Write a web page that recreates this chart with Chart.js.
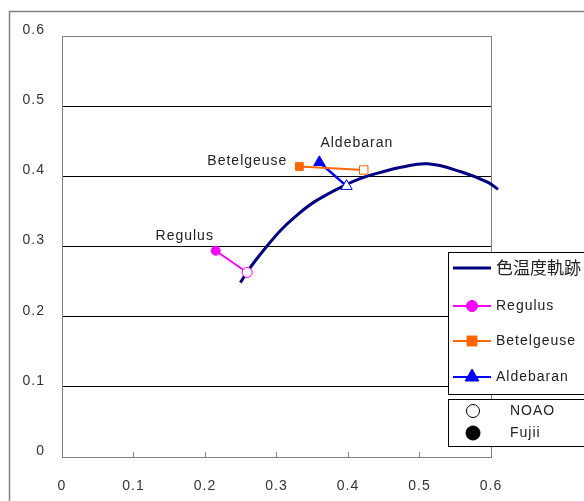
<!DOCTYPE html>
<html>
<head>
<meta charset="utf-8">
<script src="https://cdn.jsdelivr.net/npm/chart.js@4/dist/chart.umd.min.js"></script>
<style>
html, body { margin: 0; padding: 0; background: #fff; }
#wrap { width: 584px; height: 501px; }
</style>
</head>
<body>
<div id="wrap"><canvas id="chromaChart" width="584" height="501"></canvas></div>
<script>
// color temperature locus
const locusX = [0.2495, 0.2594, 0.2706, 0.2874, 0.3056, 0.3267, 0.3519, 0.3897, 0.4178, 0.4458, 0.4738, 0.5117, 0.5580, 0.5958, 0.6098];
const locusY = [0.2486, 0.2643, 0.2800, 0.3014, 0.3229, 0.3429, 0.3629, 0.3843, 0.3971, 0.4057, 0.4129, 0.4179, 0.4065, 0.3914, 0.3814];

// stars: Fujii (filled) and NOAO (open)
const starNames = ['Regulus', 'Betelgeuse', 'Aldebaran'];
const fujiiX = [0.215, 0.332, 0.360];
const fujiiY = [0.294, 0.414, 0.420];
const noaoX = [0.259, 0.422, 0.398];
const noaoY = [0.263, 0.409, 0.386];

const tickLabels = ['0', '0.1', '0.2', '0.3', '0.4', '0.5', '0.6'];
const locusName = '色温度軌跡';
const sourceNames = ['NOAO', 'Fujii'];

const starColors = ['#FF00FF', '#FF6600', '#0000FF'];
const starShapes = ['circle', 'rect', 'triangle'];
const starRadius = [[4.5, 5], [5.5, 6], [6.5, 6.5]];
const TEXT_FONT = '"Liberation Sans", Arial, sans-serif';

function starData(i) {
    return [{x: fujiiX[i], y: fujiiY[i]}, {x: noaoX[i], y: noaoY[i]}];
}

const datasets = starNames.map((name, i) => ({
    label: name,
    data: starData(i),
    showLine: true,
    borderColor: starColors[i],
    borderWidth: i === 2 ? 2.5 : 2,
    pointStyle: starShapes[i],
    pointRadius: starRadius[i],
    pointBackgroundColor: [starColors[i], '#ffffff'],
    pointBorderColor: starColors[i],
    pointBorderWidth: 1,
}));

datasets.push({
    label: locusName,
    data: locusX.map((x, i) => ({x: x, y: locusY[i]})),
    showLine: true,
    borderColor: '#000080',
    borderWidth: 3,
    pointRadius: 0,
    tension: 0.4,
    clip: false,
});

function drawShape(ctx, shape, x, y, r, fill, stroke) {
    ctx.beginPath();
    if (shape === 'circle') {
        ctx.arc(x, y, r, 0, Math.PI * 2);
    } else if (shape === 'rect') {
        const s = Math.SQRT1_2 * r;
        ctx.rect(x - s, y - s, 2 * s, 2 * s);
    } else {
        ctx.moveTo(x, y - r);
        ctx.lineTo(x + Math.sin(Math.PI * 2 / 3) * r, y - Math.cos(Math.PI * 2 / 3) * r);
        ctx.lineTo(x + Math.sin(Math.PI * 4 / 3) * r, y - Math.cos(Math.PI * 4 / 3) * r);
        ctx.closePath();
    }
    ctx.fillStyle = fill;
    ctx.fill();
    ctx.strokeStyle = stroke;
    ctx.lineWidth = 1;
    ctx.stroke();
}

const framePlugin = {
    id: 'frame',
    beforeDraw(chart) {
        const ctx = chart.ctx;
        ctx.letterSpacing = '1px';
        ctx.save();
        ctx.strokeStyle = '#808080';
        ctx.lineWidth = 1.5;
        ctx.strokeRect(9.5, 11.5, 700, 600);
        ctx.restore();
    },
    beforeDatasetsDraw(chart) {
        const a = chart.chartArea;
        const ctx = chart.ctx;
        ctx.save();
        ctx.strokeStyle = '#808080';
        ctx.lineWidth = 1;
        ctx.strokeRect(Math.round(a.left) + 0.5, Math.round(a.top) + 0.5, Math.round(a.right - a.left), Math.round(a.bottom - a.top));
        ctx.restore();
    },
    afterDatasetsDraw(chart) {
        const ctx = chart.ctx;
        const xs = chart.scales.x, ys = chart.scales.y;
        ctx.save();
        ctx.letterSpacing = '1px';
        ctx.font = '14px ' + TEXT_FONT;
        ctx.fillStyle = '#222';
        ctx.textBaseline = 'middle';
        // star name labels near the Fujii points
        const offsets = [[-31, -15, 'center'], [-12, -5, 'right'], [1, -19, 'left']];
        starNames.forEach((name, i) => {
            const px = xs.getPixelForValue(fujiiX[i]);
            const py = ys.getPixelForValue(fujiiY[i]);
            ctx.textAlign = offsets[i][2];
            ctx.fillText(name, px + offsets[i][0], py + offsets[i][1]);
        });

        // legend box 1
        ctx.fillStyle = '#fff';
        ctx.fillRect(448.5, 252.5, 200, 142);
        ctx.strokeStyle = '#000';
        ctx.lineWidth = 1;
        ctx.strokeRect(448.5, 252.5, 200, 142);
        const rows = [268, 306, 341, 377];
        ctx.textAlign = 'left';
        ctx.beginPath();
        ctx.moveTo(453, rows[0]);
        ctx.lineTo(491, rows[0]);
        ctx.strokeStyle = '#000080';
        ctx.lineWidth = 3;
        ctx.stroke();
        ctx.fillStyle = '#222';
        ctx.letterSpacing = '0px';
        ctx.font = '17px "Noto Sans CJK JP"';
        ctx.fillText(locusName, 496, rows[0]);
        ctx.letterSpacing = '1px';
        ctx.font = '14px ' + TEXT_FONT;
        const legendRadius = [5.5, 7, 8];
        starNames.forEach((name, i) => {
            const y = rows[i + 1];
            ctx.beginPath();
            ctx.moveTo(453, y);
            ctx.lineTo(491, y);
            ctx.strokeStyle = starColors[i];
            ctx.lineWidth = 2;
            ctx.stroke();
            drawShape(ctx, starShapes[i], 472, y, legendRadius[i], starColors[i], starColors[i]);
            ctx.fillStyle = '#222';
            ctx.fillText(name, 496, y);
        });

        // legend box 2
        ctx.fillStyle = '#fff';
        ctx.fillRect(448.5, 399.5, 200, 47);
        ctx.strokeStyle = '#000';
        ctx.lineWidth = 1;
        ctx.strokeRect(448.5, 399.5, 200, 47);
        drawShape(ctx, 'circle', 473, 411, 6.5, '#fff', '#000');
        drawShape(ctx, 'circle', 473, 433, 7, '#000', '#000');
        ctx.fillStyle = '#222';
        ctx.fillText(sourceNames[0], 510, 411);
        ctx.fillText(sourceNames[1], 510, 433);
        ctx.restore();
    }
};

new Chart(document.getElementById('chromaChart'), {
    type: 'scatter',
    data: { datasets: datasets },
    options: {
        responsive: false,
        animation: false,
        devicePixelRatio: 1,
        layout: { padding: { left: 0, top: 36, right: 93, bottom: 0 } },
        plugins: {
            legend: { display: false },
            tooltip: { enabled: false }
        },
        scales: {
            x: {
                type: 'linear',
                min: 0,
                max: 0.6,
                afterFit: (scale) => { scale.height = 44; },
                border: { display: true, color: '#808080', width: 1 },
                grid: { drawOnChartArea: false, drawTicks: true, tickLength: -5, color: '#808080' },
                ticks: {
                    stepSize: 0.1,
                    padding: 26,
                    color: '#333',
                    font: { family: TEXT_FONT, size: 14 },
                    callback: (v, i) => tickLabels[i]
                }
            },
            y: {
                type: 'linear',
                min: 0,
                max: 0.6,
                afterFit: (scale) => { scale.width = 62; },
                border: { display: true, color: '#808080', width: 1 },
                grid: {
                    drawTicks: false,
                    color: (c) => (c.tick && c.tick.value > 0.05 && c.tick.value < 0.55) ? '#000' : 'rgba(0,0,0,0)'
                },
                ticks: {
                    stepSize: 0.1,
                    padding: 17,
                    labelOffset: -6,
                    color: '#333',
                    font: { family: TEXT_FONT, size: 14 },
                    callback: (v, i) => tickLabels[i]
                }
            }
        }
    },
    plugins: [framePlugin]
});
</script>
</body>
</html>
